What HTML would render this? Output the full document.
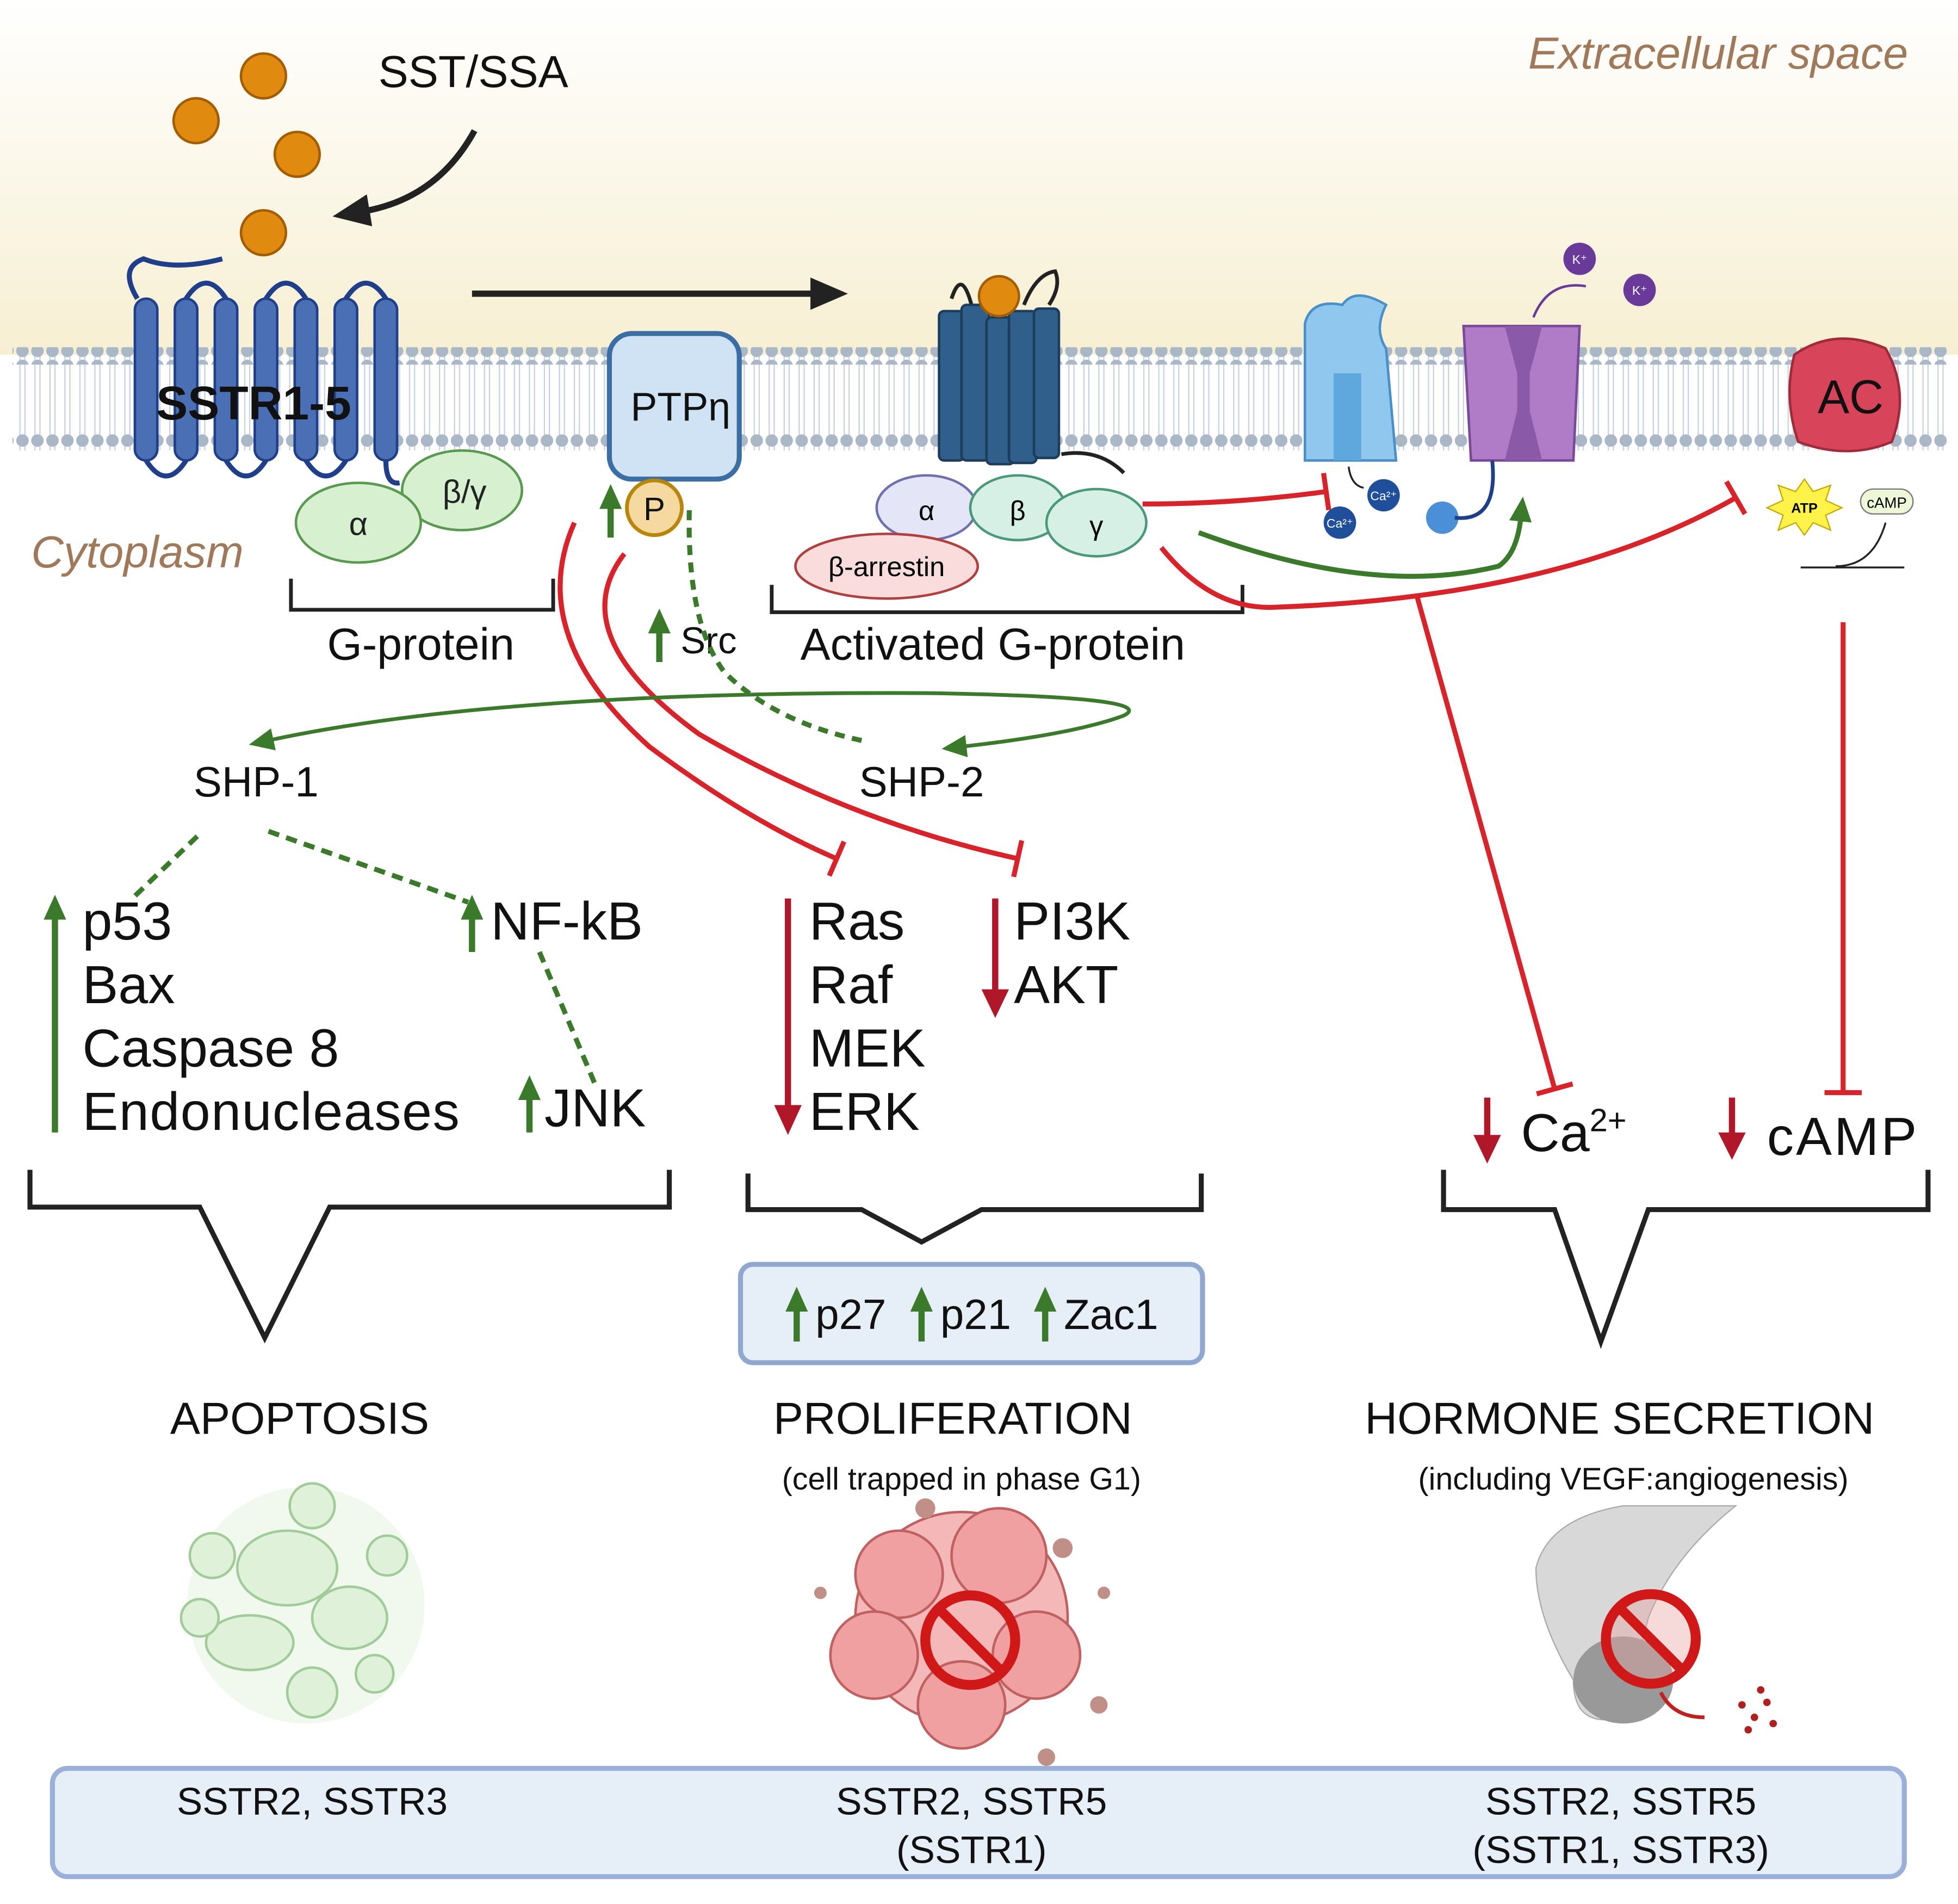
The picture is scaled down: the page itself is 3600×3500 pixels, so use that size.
<!DOCTYPE html>
<html><head><meta charset="utf-8"><style>
html,body{margin:0;padding:0;background:#fff;}
svg{display:block;}
text{font-family:"Liberation Sans",sans-serif;}
</style></head><body>
<svg width="3600" height="3500" viewBox="0 0 1568 1530" preserveAspectRatio="none" xmlns="http://www.w3.org/2000/svg">
<defs>
<linearGradient id="ext" x1="0" y1="0" x2="0" y2="1">
<stop offset="0" stop-color="#ffffff"/><stop offset="1" stop-color="#f7efd2"/></linearGradient>
<pattern id="dots" width="12" height="12" patternUnits="userSpaceOnUse"><circle cx="6" cy="6" r="5" fill="#a9b7c6"/></pattern>
<pattern id="tails" width="12" height="44" patternUnits="userSpaceOnUse"><path d="M4 0 L4 44 M8 0 L8 44" stroke="#c9d2dc" stroke-width="1"/></pattern>
<marker id="ag" markerWidth="20" markerHeight="20" refX="4" refY="10" orient="auto" markerUnits="userSpaceOnUse"><path d="M0 1 L20 10 L0 19z" fill="#3a7a2a"/></marker>
<marker id="ak" markerWidth="30" markerHeight="30" refX="6" refY="15" orient="auto" markerUnits="userSpaceOnUse"><path d="M0 2 L30 15 L0 28z" fill="#222"/></marker>
<marker id="tb" markerWidth="6" markerHeight="30" refX="3" refY="15" orient="auto" markerUnits="userSpaceOnUse"><path d="M3 0 L3 30" stroke="#d9232b" stroke-width="4"/></marker>
</defs>
<rect x="0" y="0" width="1568" height="285" fill="url(#ext)"/>
<rect x="10" y="280" width="1550" height="82" fill="url(#tails)"/>
<rect x="10" y="279" width="1550" height="14" fill="url(#dots)"/>
<rect x="10" y="347" width="1550" height="14" fill="url(#dots)"/>
<text x="1528" y="55" font-size="36" font-style="italic" fill="#a0785a" text-anchor="end">Extracellular space</text>
<text x="25" y="456" font-size="36" font-style="italic" fill="#a0785a">Cytoplasm</text>
<text x="303" y="70" font-size="36" fill="#111">SST/SSA</text>
<g fill="#e08a10" stroke="#a35d00" stroke-width="2">
<circle cx="211" cy="61" r="18"/><circle cx="157" cy="97" r="18"/><circle cx="238" cy="124" r="18"/><circle cx="211" cy="187" r="18"/></g>
<path d="M380 105 Q350 160 290 170" stroke="#222" stroke-width="5" fill="none" marker-end="url(#ak)"/>
<path d="M378 236 L655 236" stroke="#222" stroke-width="5" fill="none" marker-end="url(#ak)"/>
<path d="M178 208 Q140 218 115 208 Q95 215 110 240" stroke="#1f3f8a" stroke-width="4" fill="none"/>
<g fill="#4a6fb5" stroke="#1f3f8a" stroke-width="2">
<rect x="108" y="240" width="18" height="130" rx="9"/><rect x="140" y="240" width="18" height="130" rx="9"/><rect x="172" y="240" width="18" height="130" rx="9"/><rect x="204" y="240" width="18" height="130" rx="9"/><rect x="236" y="240" width="18" height="130" rx="9"/><rect x="268" y="240" width="18" height="130" rx="9"/><rect x="300" y="240" width="18" height="130" rx="9"/></g>
<path d="M117 370 Q133 395 149 370 M181 370 Q197 395 213 370 M245 370 Q261 395 277 370 M149 240 Q165 215 181 240 M213 240 Q229 215 245 240 M277 240 Q293 215 309 240 M309 370 Q309 390 320 388" stroke="#1f3f8a" stroke-width="4" fill="none"/>
<text x="125" y="337" font-size="38" font-weight="bold" fill="#111">SSTR1-5</text>
<ellipse cx="370" cy="394" rx="48" ry="32" fill="#d6f0d0" stroke="#5a9a50" stroke-width="2"/>
<ellipse cx="287" cy="420" rx="50" ry="32" fill="#d6f0d0" stroke="#5a9a50" stroke-width="2"/>
<text x="287" y="430" font-size="26" text-anchor="middle" fill="#222">α</text>
<text x="372" y="404" font-size="26" text-anchor="middle" fill="#222">β/γ</text>
<path d="M233 465 L233 490 L443 490 L443 465" stroke="#222" stroke-width="3" fill="none"/>
<text x="337" y="530" font-size="36" text-anchor="middle" fill="#111">G-protein</text>
<rect x="488" y="268" width="104" height="117" rx="18" fill="#cfe3f5" stroke="#3a6ea5" stroke-width="4"/>
<text x="545" y="338" font-size="32" text-anchor="middle" fill="#111">PTPη</text>
<circle cx="524" cy="408" r="22" fill="#f5d9a0" stroke="#b8860b" stroke-width="3"/>
<text x="524" y="418" font-size="26" text-anchor="middle" fill="#111">P</text>
<path d="M489 432 L489 405" stroke="#3a7a2a" stroke-width="5" marker-end="url(#ag)"/>
<path d="M528 532 L528 505" stroke="#3a7a2a" stroke-width="5" marker-end="url(#ag)"/>
<text x="545" y="525" font-size="30" fill="#111">Src</text>
<path d="M552 410 Q550 500 580 540 Q620 580 690 595" stroke="#3a7a2a" stroke-width="4" stroke-dasharray="8 6" fill="none"/>
<path d="M762 240 Q770 215 778 245 M820 245 Q830 220 845 218 Q850 230 840 245 M850 365 Q880 360 900 380" stroke="#222" stroke-width="3" fill="none"/>
<g fill="#2f5f8a" stroke="#1c3d5c" stroke-width="2">
<rect x="752" y="250" width="20" height="120" rx="4"/><rect x="770" y="245" width="22" height="125" rx="4"/><rect x="790" y="255" width="22" height="118" rx="4"/><rect x="808" y="250" width="22" height="122" rx="4"/><rect x="828" y="248" width="20" height="120" rx="4"/></g>
<circle cx="800" cy="238" r="16" fill="#e08a10" stroke="#a35d00" stroke-width="2"/>
<ellipse cx="742" cy="408" rx="40" ry="26" fill="#e5e5f8" stroke="#7070b0" stroke-width="2"/>
<ellipse cx="815" cy="408" rx="38" ry="26" fill="#d6f0e6" stroke="#4a9a7a" stroke-width="2"/>
<ellipse cx="878" cy="420" rx="40" ry="27" fill="#d6f0e6" stroke="#4a9a7a" stroke-width="2"/>
<ellipse cx="710" cy="455" rx="73" ry="26" fill="#fbdcdc" stroke="#b04040" stroke-width="2"/>
<text x="742" y="418" font-size="22" text-anchor="middle">α</text>
<text x="815" y="418" font-size="22" text-anchor="middle">β</text>
<text x="878" y="430" font-size="22" text-anchor="middle">γ</text>
<text x="710" y="463" font-size="22" text-anchor="middle">β-arrestin</text>
<path d="M618 470 L618 492 L995 492 L995 470" stroke="#222" stroke-width="3" fill="none"/>
<text x="795" y="530" font-size="36" text-anchor="middle" fill="#111">Activated G-protein</text>
<path d="M1045 260 Q1050 240 1075 245 Q1085 230 1110 245 Q1100 265 1110 280 L1118 370 L1045 370 Z" fill="#8fc7ee" stroke="#4a8fc7" stroke-width="2"/>
<rect x="1068" y="300" width="22" height="70" fill="#5fa8de"/>
<path d="M1172 262 L1265 262 L1260 370 L1178 370 Z" fill="#b07cc8" stroke="#7a4a9a" stroke-width="2"/>
<path d="M1205 262 L1235 262 L1225 300 L1225 330 L1235 370 L1205 370 L1215 330 L1215 300 Z" fill="#8a5aa8"/>
<circle cx="1265" cy="208" r="13" fill="#6a3a9a"/><circle cx="1313" cy="233" r="13" fill="#6a3a9a"/>
<text x="1265" y="212" font-size="10" fill="#fff" text-anchor="middle">K⁺</text><text x="1313" y="237" font-size="10" fill="#fff" text-anchor="middle">K⁺</text>
<path d="M1228 255 Q1240 225 1270 230" stroke="#6a3a9a" stroke-width="2" fill="none"/>
<circle cx="1108" cy="398" r="13" fill="#1f4f9a"/><circle cx="1073" cy="420" r="13" fill="#1f4f9a"/>
<text x="1108" y="402" font-size="10" fill="#fff" text-anchor="middle">Ca²⁺</text><text x="1073" y="424" font-size="10" fill="#fff" text-anchor="middle">Ca²⁺</text>
<path d="M1080 375 Q1082 390 1092 392" stroke="#222" stroke-width="1.5" fill="none"/>
<circle cx="1155" cy="416" r="13" fill="#4a8fd7"/>
<path d="M1165 416 Q1200 420 1195 370" stroke="#1f3f8a" stroke-width="3" fill="none"/>
<path d="M1437 285 Q1470 262 1510 280 Q1530 315 1515 355 Q1480 370 1440 355 Q1428 320 1437 285 Z" fill="#d8455a" stroke="#a02a3a" stroke-width="2"/>
<text x="1482" y="332" font-size="38" text-anchor="middle" fill="#111">AC</text>
<polygon points="1445,385 1452,395 1466,390 1462,402 1475,408 1462,414 1466,426 1452,420 1445,430 1438,420 1424,426 1428,414 1415,408 1428,402 1424,390 1438,395" fill="#fff34a" stroke="#c8a800"/>
<text x="1445" y="412" font-size="11" font-weight="bold" text-anchor="middle">ATP</text>
<rect x="1490" y="393" width="42" height="20" rx="10" fill="#eef7d8" stroke="#777"/>
<text x="1511" y="408" font-size="12" text-anchor="middle">cAMP</text>
<path d="M1442 456 L1525 456 M1470 455 Q1500 455 1510 420" stroke="#222" stroke-width="1.5" fill="none"/>
<g stroke="#d9232b" stroke-width="4" fill="none">
<path d="M915 405 Q990 405 1062 395" marker-end="url(#tb)"/>
<path d="M930 440 Q970 490 1020 488 Q1250 480 1390 400" marker-end="url(#tb)"/>
<path d="M460 420 Q420 510 520 600 Q600 660 670 690" marker-end="url(#tb)"/>
<path d="M500 445 Q450 510 560 590 Q680 660 815 690" marker-end="url(#tb)"/>
<path d="M1135 480 L1245 875" marker-end="url(#tb)"/>
<path d="M1476 500 L1476 878" marker-end="url(#tb)"/>
</g>
<path d="M960 428 Q1100 480 1200 455 Q1215 445 1218 415" stroke="#3a7a2a" stroke-width="4" fill="none" marker-end="url(#ag)"/>
<path d="M745 557 Q400 555 215 595" stroke="#3a7a2a" stroke-width="3" fill="none" marker-end="url(#ag)"/>
<path d="M745 557 Q930 560 900 575 Q860 590 770 600" stroke="#3a7a2a" stroke-width="3" fill="none" marker-end="url(#ag)"/>
<text x="155" y="640" font-size="34" fill="#111">SHP-1</text>
<text x="688" y="640" font-size="34" fill="#111">SHP-2</text>
<g stroke="#3a7a2a" stroke-width="4" stroke-dasharray="9 6" fill="none">
<path d="M158 672 L108 720"/><path d="M215 668 L375 725"/><path d="M432 765 L476 870"/></g>
<g stroke="#3a7a2a" stroke-width="5" fill="none">
<path d="M44 910 L44 735" marker-end="url(#ag)"/><path d="M378 765 L378 735" marker-end="url(#ag)"/><path d="M424 910 L424 880" marker-end="url(#ag)"/></g>
<g font-size="43" fill="#111">
<text x="66" y="755">p53</text><text x="66" y="806">Bax</text><text x="66" y="857">Caspase 8</text><text x="66" y="908" textLength="302">Endonucleases</text>
<text x="393" y="755">NF-kB</text><text x="436" y="905">JNK</text>
<text x="648" y="755">Ras</text><text x="648" y="806">Raf</text><text x="648" y="857">MEK</text><text x="648" y="908">ERK</text>
<text x="812" y="755">PI3K</text><text x="812" y="806">AKT</text>
<text x="1218" y="925">Ca<tspan font-size="26" dy="-16">2+</tspan></text><text x="1415" y="928" textLength="120">cAMP</text></g>
<g stroke="#b0182a" stroke-width="5" fill="none">
<path d="M631 722 L631 895"/><path d="M797 722 L797 800"/><path d="M1191 882 L1191 918"/><path d="M1387 882 L1387 915"/></g>
<g fill="#b0182a"><path d="M620 888 L642 888 L631 912z"/><path d="M786 795 L808 795 L797 818z"/><path d="M1180 912 L1202 912 L1191 935z"/><path d="M1376 910 L1398 910 L1387 932z"/></g>
<g stroke="#222" stroke-width="4" fill="none">
<path d="M24 940 L24 970 L160 970 L212 1075 L264 970 L536 970 L536 940"/>
<path d="M599 943 L599 972 L690 972 L738 998 L786 972 L962 972 L962 943"/>
<path d="M1156 940 L1156 972 L1245 972 L1282 1078 L1320 972 L1544 972 L1544 940"/></g>
<rect x="593" y="1016" width="370" height="79" rx="10" fill="#e6eef8" stroke="#90a8d0" stroke-width="4"/>
<g stroke="#3a7a2a" stroke-width="5"><path d="M638 1078 L638 1050" marker-end="url(#ag)"/><path d="M738 1078 L738 1050" marker-end="url(#ag)"/><path d="M837 1078 L837 1050" marker-end="url(#ag)"/></g>
<g font-size="34" fill="#111"><text x="653" y="1068">p27</text><text x="753" y="1068">p21</text><text x="852" y="1068">Zac1</text></g>
<g font-size="36" fill="#111" text-anchor="middle"><text x="240" y="1152">APOPTOSIS</text><text x="763" y="1152">PROLIFERATION</text><text x="1297" y="1152">HORMONE SECRETION</text></g>
<g font-size="25" fill="#111" text-anchor="middle"><text x="770" y="1197">(cell trapped in phase G1)</text><text x="1308" y="1197">(including VEGF:angiogenesis)</text></g>
<g fill="#d8f0d0" stroke="#8ac080" stroke-width="2" opacity="0.8">
<circle cx="245" cy="1290" r="95" fill="#eef8ea" stroke="none"/>
<ellipse cx="230" cy="1260" rx="40" ry="30"/><ellipse cx="280" cy="1300" rx="30" ry="25"/><ellipse cx="200" cy="1320" rx="35" ry="22"/>
<circle cx="170" cy="1250" r="18"/><circle cx="310" cy="1250" r="16"/><circle cx="250" cy="1360" r="20"/><circle cx="300" cy="1345" r="15"/><circle cx="160" cy="1300" r="15"/><circle cx="250" cy="1210" r="18"/></g>
<g fill="#f0a0a0" stroke="#c06060" stroke-width="2">
<circle cx="770" cy="1300" r="85" fill="#f5b8b8"/><circle cx="720" cy="1265" r="35"/><circle cx="800" cy="1250" r="38"/><circle cx="700" cy="1330" r="35"/><circle cx="830" cy="1330" r="35"/><circle cx="770" cy="1370" r="35"/></g>
<g fill="#c09088"><circle cx="741" cy="1212" r="8"/><circle cx="851" cy="1244" r="8"/><circle cx="657" cy="1280" r="5"/><circle cx="880" cy="1370" r="7"/><circle cx="838" cy="1412" r="7"/><circle cx="884" cy="1280" r="5"/></g>
<circle cx="777" cy="1318" r="36" fill="none" stroke="#d01818" stroke-width="8"/><path d="M752 1293 L802 1343" stroke="#d01818" stroke-width="8"/>
<path d="M1230 1260 Q1240 1220 1300 1210 L1390 1210 Q1340 1250 1320 1300 L1300 1380 Q1260 1390 1260 1350 Q1230 1300 1230 1260 Z" fill="#d8d8d8" stroke="#aaa"/>
<ellipse cx="1300" cy="1350" rx="40" ry="35" fill="#999"/>
<circle cx="1322" cy="1317" r="36" fill="#e8a0a0" fill-opacity="0.4" stroke="#d01818" stroke-width="8"/><path d="M1297 1292 L1347 1342" stroke="#d01818" stroke-width="8"/>
<path d="M1330 1360 Q1340 1380 1365 1380" stroke="#c02020" stroke-width="3" fill="none"/>
<g fill="#b02020"><circle cx="1395" cy="1370" r="3"/><circle cx="1405" cy="1380" r="3"/><circle cx="1415" cy="1368" r="3"/><circle cx="1400" cy="1390" r="3"/><circle cx="1420" cy="1385" r="3"/><circle cx="1410" cy="1358" r="3"/></g>
<rect x="42" y="1421" width="1483" height="87" rx="12" fill="#e6eef8" stroke="#9ab0d8" stroke-width="4"/>
<g font-size="31" fill="#111" text-anchor="middle">
<text x="250" y="1458">SSTR2, SSTR3</text>
<text x="778" y="1458">SSTR2, SSTR5</text><text x="778" y="1497">(SSTR1)</text>
<text x="1298" y="1458">SSTR2, SSTR5</text><text x="1298" y="1497">(SSTR1, SSTR3)</text></g>
</svg>
</body></html>
